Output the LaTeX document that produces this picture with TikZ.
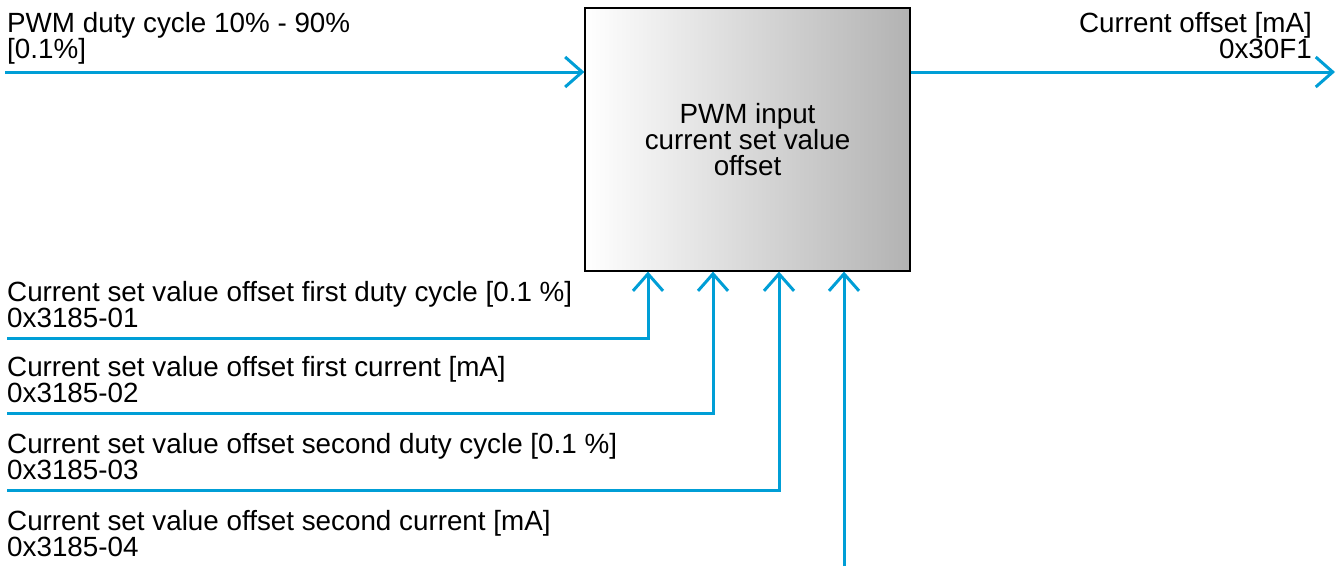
\documentclass[tikz,border=0pt]{standalone}
\usepackage{fontspec}
\setmainfont{Liberation Sans}
\usetikzlibrary{arrows.meta, positioning}
\definecolor{sigblue}{RGB}{0,158,214}

\begin{document}
\begin{tikzpicture}[
    x=1pt, y=-1pt,
    block/.style={
        rectangle,
        draw=black,
        line width=1.2pt,
        left color=white,
        right color=black!30,
        minimum width=325pt,
        minimum height=263pt,
        align=center,
        font=\fontsize{27.8}{26}\selectfont
    },
    lbl/.style={
        inner sep=0pt,
        align=left,
        font=\fontsize{27.8}{26}\selectfont
    },
    link/.style={
        -{Straight Barb[length=17pt, width=30pt]},
        draw=sigblue,
        line width=3pt
    }
]
    \useasboundingbox (0,0) rectangle (1338,566);

    \node (pwm) [block] at (747.5,139.5) {PWM input\\current set value\\offset};

    \node (duty) [lbl, anchor=base west] at (7,58) {
        PWM duty cycle 10\% - 90\%\\{}[0.1\%]
    };
    \node (offs) [lbl, align=right, anchor=base east] at (1312,58) {
        Current offset [mA]\\0x30F1
    };

    \node (s1) [lbl, anchor=base west] at (7,327) {
        Current set value offset first duty cycle [0.1 \%]\\0x3185-01
    };
    \node (s2) [lbl, anchor=base west] at (7,402) {
        Current set value offset first current [mA]\\0x3185-02
    };
    \node (s3) [lbl, anchor=base west] at (7,479) {
        Current set value offset second duty cycle [0.1 \%]\\0x3185-03
    };
    \node (s4) [lbl, anchor=base west] at (7,556) {
        Current set value offset second current [mA]\\0x3185-04
    };

    \coordinate (in) at (5,72);
    \coordinate (out) at (1335,72);
    \coordinate (f1) at (7,338);
    \coordinate (f2) at (7,413);
    \coordinate (f3) at (7,490);
    \coordinate (f4) at (844,566);

    \draw [link] (in) -- (pwm.west |- in);
    \draw [link] (pwm.east |- out) -- (out);
    \draw [link] (f1) -| (648,0 |- pwm.south);
    \draw [link] (f2) -| (713,0 |- pwm.south);
    \draw [link] (f3) -| (779,0 |- pwm.south);
    \draw [link] (f4) -- (f4 |- pwm.south);

\end{tikzpicture}
\end{document}
